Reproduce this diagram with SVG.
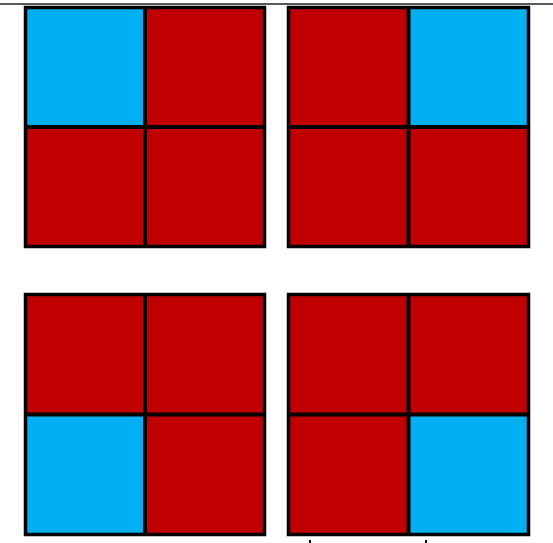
<svg xmlns="http://www.w3.org/2000/svg" width="553" height="543" viewBox="0 0 553 543">
<style>
.r{fill:#c00000}
.b{fill:#00b0f0}
.frame{fill:none;stroke:#000;stroke-width:3.5}
.div{stroke:#000;stroke-width:4}
</style>
<rect width="553" height="543" fill="#fff"/>
<line x1="0" y1="4" x2="553" y2="4" stroke="#222" stroke-width="1.6"/>
<g id="grid-tl">
<rect class="b" x="25.5" y="7.5" width="119.5" height="119.5"/>
<rect class="r" x="145" y="7.5" width="119.5" height="119.5"/>
<rect class="r" x="25.5" y="127" width="119.5" height="119.5"/>
<rect class="r" x="145" y="127" width="119.5" height="119.5"/>
<line class="div" x1="145" y1="7.5" x2="145" y2="246.5"/>
<line class="div" x1="25.5" y1="127" x2="264.5" y2="127"/>
<rect class="frame" x="25.5" y="7.5" width="239" height="239"/>
</g>
<g id="grid-tr">
<rect class="r" x="288.5" y="7.5" width="120" height="119.5"/>
<rect class="b" x="408.5" y="7.5" width="120" height="119.5"/>
<rect class="r" x="288.5" y="127" width="120" height="119.5"/>
<rect class="r" x="408.5" y="127" width="120" height="119.5"/>
<line class="div" x1="408.5" y1="7.5" x2="408.5" y2="246.5"/>
<line class="div" x1="288.5" y1="127" x2="528.5" y2="127"/>
<rect class="frame" x="288.5" y="7.5" width="240" height="239"/>
</g>
<g id="grid-bl">
<rect class="r" x="25.5" y="294.5" width="119.5" height="120"/>
<rect class="r" x="145" y="294.5" width="119.5" height="120"/>
<rect class="b" x="25.5" y="414.5" width="119.5" height="120"/>
<rect class="r" x="145" y="414.5" width="119.5" height="120"/>
<line class="div" x1="145" y1="294.5" x2="145" y2="534.5"/>
<line class="div" x1="25.5" y1="414.5" x2="264.5" y2="414.5"/>
<rect class="frame" x="25.5" y="294.5" width="239" height="240"/>
</g>
<g id="grid-br">
<rect class="r" x="288.5" y="294.5" width="120" height="120"/>
<rect class="r" x="408.5" y="294.5" width="120" height="120"/>
<rect class="r" x="288.5" y="414.5" width="120" height="120"/>
<rect class="b" x="408.5" y="414.5" width="120" height="120"/>
<line class="div" x1="408.5" y1="294.5" x2="408.5" y2="534.5"/>
<line class="div" x1="288.5" y1="414.5" x2="528.5" y2="414.5"/>
<rect class="frame" x="288.5" y="294.5" width="240" height="240"/>
</g>
<g id="connectors">
<rect x="309" y="540" width="2" height="3" fill="#000"/>
<rect x="425" y="540" width="2" height="3" fill="#000"/>
</g>
</svg>
